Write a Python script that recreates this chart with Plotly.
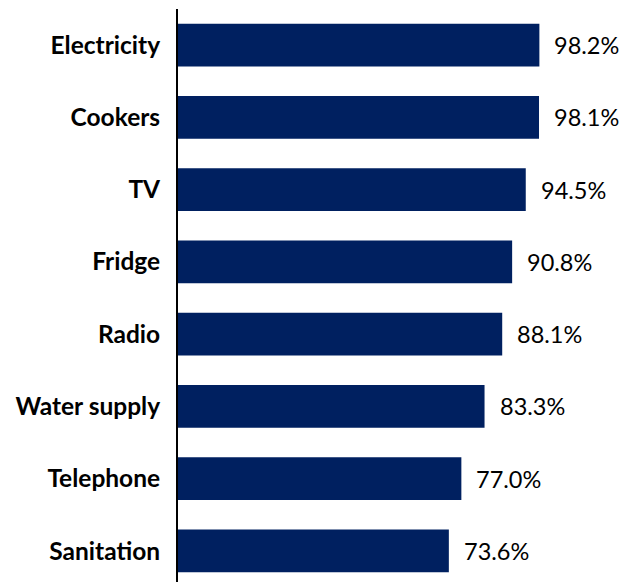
import plotly.graph_objects as go

categories = ["Electricity", "Cookers", "TV", "Fridge", "Radio", "Water supply", "Telephone", "Sanitation"]
values = [98.2, 98.1, 94.5, 90.8, 88.1, 83.3, 77.0, 73.6]
value_labels = ["98.2%", "98.1%", "94.5%", "90.8%", "88.1%", "83.3%", "77.0%", "73.6%"]

fig = go.Figure()
fig.add_trace(go.Bar(
    y=categories, x=values, orientation="h",
    marker=dict(color="#002060", line=dict(width=0)),
    hoverinfo="skip",
))

for c, v, t in zip(categories, values, value_labels):
    fig.add_annotation(x=v, y=c, text=t, showarrow=False, xanchor="left",
                       xshift=13, font=dict(family="Lato", size=23.5, color="#000000"))

fig.update_layout(
    width=623, height=582,
    margin=dict(l=178, r=77, t=9, b=0),
    plot_bgcolor="white", paper_bgcolor="white",
    bargap=0.41,
    showlegend=False,
    xaxis=dict(range=[0, 100], visible=False, fixedrange=True),
    yaxis=dict(
        type="category",
        categoryorder="array", categoryarray=categories,
        range=[7.43, -0.5],
        showline=True, linecolor="#000000", linewidth=2,
        showgrid=False, zeroline=False, ticks="",
        ticklabelstandoff=11,
        tickfont=dict(family="Lato", size=24.5, color="#000000", weight="bold"),
    ),
)

fig.write_html("out.html")
